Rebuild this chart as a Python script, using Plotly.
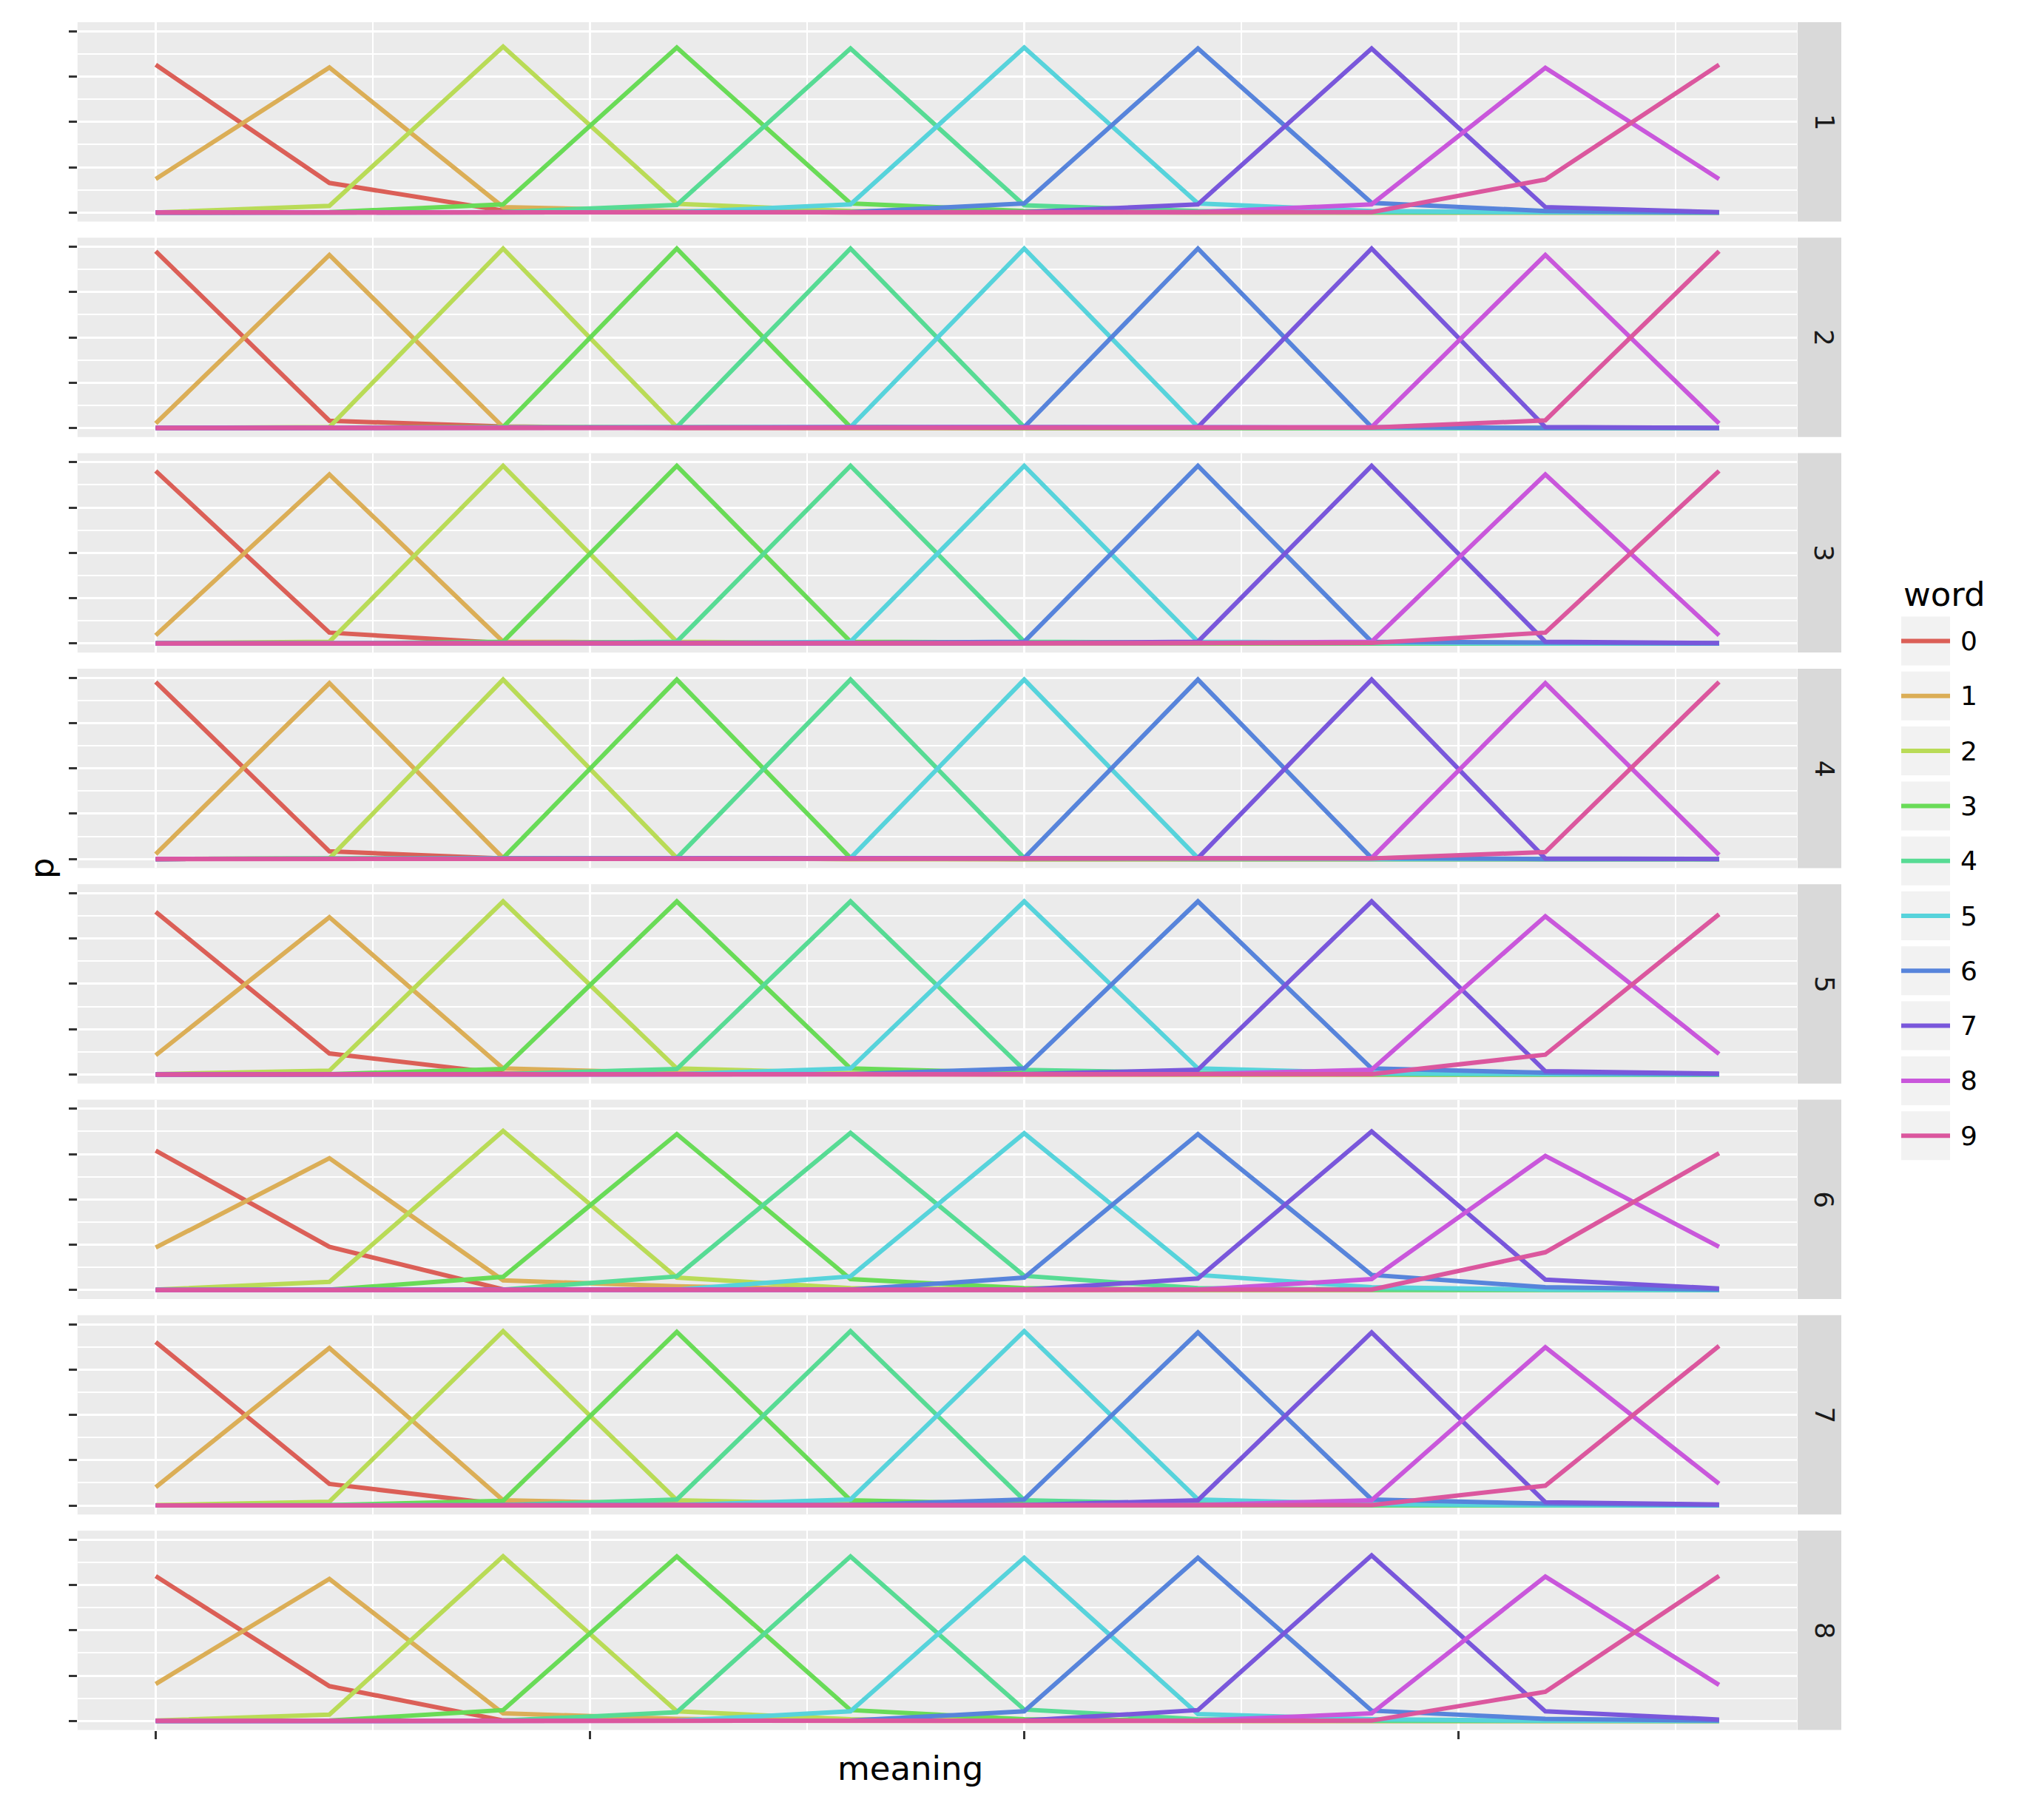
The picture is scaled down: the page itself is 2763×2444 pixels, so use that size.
import plotly.graph_objects as go

# ---------------- data ----------------
meanings = [0, 1, 2, 3, 4, 5, 6, 7, 8, 9]
words = ["0", "1", "2", "3", "4", "5", "6", "7", "8", "9"]
facets = ["1", "2", "3", "4", "5", "6", "7", "8"]

# each panel: one row per word, values p over meanings 0..9
P1 = [
    [0.815, 0.163, 0.010, 0.002, 0, 0, 0, 0, 0, 0],
    [0.185, 0.800, 0.030, 0.008, 0.002, 0, 0, 0, 0, 0],
    [0.000, 0.037, 0.915, 0.048, 0.008, 0.002, 0, 0, 0, 0],
    [0, 0.002, 0.045, 0.910, 0.050, 0.008, 0.002, 0, 0, 0],
    [0, 0, 0.002, 0.042, 0.905, 0.040, 0.008, 0.002, 0, 0],
    [0, 0, 0, 0.002, 0.045, 0.910, 0.050, 0.008, 0.002, 0],
    [0, 0, 0, 0, 0.002, 0.050, 0.905, 0.053, 0.008, 0],
    [0, 0, 0, 0, 0, 0.002, 0.045, 0.905, 0.030, 0.002],
    [0, 0, 0, 0, 0, 0, 0.002, 0.045, 0.798, 0.185],
    [0, 0, 0, 0, 0, 0, 0, 0.002, 0.182, 0.815],
]
P2 = [
    [0.975, 0.040, 0.008, 0, 0, 0, 0, 0, 0, 0],
    [0.025, 0.955, 0.005, 0.002, 0, 0, 0, 0, 0, 0],
    [0, 0.005, 0.990, 0.005, 0, 0, 0, 0, 0, 0],
    [0, 0, 0.005, 0.990, 0.005, 0, 0, 0, 0, 0],
    [0, 0, 0, 0.005, 0.990, 0.005, 0, 0, 0, 0],
    [0, 0, 0, 0, 0.005, 0.990, 0.005, 0, 0, 0],
    [0, 0, 0, 0, 0, 0.005, 0.990, 0.005, 0, 0],
    [0, 0, 0, 0, 0, 0, 0.005, 0.990, 0.005, 0],
    [0, 0, 0, 0, 0, 0, 0, 0.005, 0.955, 0.025],
    [0, 0, 0, 0, 0, 0, 0, 0.002, 0.042, 0.975],
]
P3 = [
    [0.952, 0.060, 0.003, 0, 0, 0, 0, 0, 0, 0],
    [0.045, 0.933, 0.010, 0.002, 0, 0, 0, 0, 0, 0],
    [0.002, 0.010, 0.980, 0.010, 0.002, 0, 0, 0, 0, 0],
    [0, 0, 0.010, 0.980, 0.010, 0.002, 0, 0, 0, 0],
    [0, 0, 0.002, 0.010, 0.980, 0.010, 0.002, 0, 0, 0],
    [0, 0, 0, 0.002, 0.010, 0.980, 0.010, 0.002, 0, 0],
    [0, 0, 0, 0, 0.002, 0.010, 0.980, 0.010, 0.002, 0],
    [0, 0, 0, 0, 0, 0.002, 0.010, 0.980, 0.010, 0.002],
    [0, 0, 0, 0, 0, 0, 0.002, 0.010, 0.933, 0.045],
    [0, 0, 0, 0, 0, 0, 0, 0.003, 0.060, 0.952],
]
P4 = [
    [0.977, 0.042, 0.003, 0, 0, 0, 0, 0, 0, 0],
    [0.027, 0.970, 0.005, 0, 0, 0, 0, 0, 0, 0],
    [0, 0.003, 0.990, 0.005, 0, 0, 0, 0, 0, 0],
    [0, 0, 0.005, 0.990, 0.005, 0, 0, 0, 0, 0],
    [0, 0, 0, 0.005, 0.990, 0.005, 0, 0, 0, 0],
    [0, 0, 0, 0, 0.005, 0.990, 0.005, 0, 0, 0],
    [0, 0, 0, 0, 0, 0.005, 0.990, 0.005, 0, 0],
    [0, 0, 0, 0, 0, 0, 0.005, 0.990, 0.003, 0],
    [0, 0, 0, 0, 0, 0, 0, 0.005, 0.970, 0.023],
    [0, 0, 0, 0, 0, 0, 0, 0.003, 0.038, 0.977],
]
P5 = [
    [0.897, 0.116, 0.005, 0.002, 0, 0, 0, 0, 0, 0],
    [0.106, 0.868, 0.033, 0.008, 0.002, 0, 0, 0, 0, 0],
    [0.002, 0.021, 0.955, 0.033, 0.008, 0.002, 0, 0, 0, 0],
    [0, 0.002, 0.030, 0.955, 0.033, 0.008, 0.002, 0, 0, 0],
    [0, 0, 0.002, 0.030, 0.955, 0.025, 0.008, 0.002, 0, 0],
    [0, 0, 0, 0.002, 0.033, 0.955, 0.033, 0.008, 0.002, 0],
    [0, 0, 0, 0, 0.002, 0.033, 0.955, 0.033, 0.010, 0.002],
    [0, 0, 0, 0, 0, 0.002, 0.026, 0.955, 0.018, 0.005],
    [0, 0, 0, 0, 0, 0, 0.002, 0.026, 0.873, 0.113],
    [0, 0, 0, 0, 0, 0, 0, 0.002, 0.109, 0.884],
]
P6 = [
    [0.769, 0.238, 0.003, 0, 0, 0, 0, 0, 0, 0],
    [0.234, 0.727, 0.053, 0.020, 0.002, 0, 0, 0, 0, 0],
    [0.002, 0.045, 0.878, 0.068, 0.010, 0.002, 0, 0, 0, 0],
    [0, 0.002, 0.072, 0.860, 0.060, 0.010, 0.002, 0, 0, 0],
    [0, 0, 0.002, 0.075, 0.867, 0.078, 0.010, 0.002, 0, 0],
    [0, 0, 0, 0.002, 0.075, 0.865, 0.083, 0.015, 0.002, 0],
    [0, 0, 0, 0, 0.002, 0.068, 0.860, 0.083, 0.015, 0.002],
    [0, 0, 0, 0, 0, 0.002, 0.063, 0.875, 0.057, 0.008],
    [0, 0, 0, 0, 0, 0, 0.002, 0.060, 0.740, 0.238],
    [0, 0, 0, 0, 0, 0, 0, 0.002, 0.208, 0.755],
]
P7 = [
    [0.902, 0.119, 0.005, 0.002, 0, 0, 0, 0, 0, 0],
    [0.101, 0.869, 0.029, 0.008, 0.002, 0, 0, 0, 0, 0],
    [0.002, 0.021, 0.962, 0.029, 0.008, 0.002, 0, 0, 0, 0],
    [0, 0.002, 0.026, 0.958, 0.029, 0.008, 0.002, 0, 0, 0],
    [0, 0, 0.002, 0.033, 0.962, 0.029, 0.008, 0.002, 0, 0],
    [0, 0, 0, 0.002, 0.033, 0.962, 0.033, 0.008, 0.002, 0],
    [0, 0, 0, 0, 0.002, 0.033, 0.955, 0.033, 0.010, 0.002],
    [0, 0, 0, 0, 0, 0.002, 0.029, 0.955, 0.018, 0.005],
    [0, 0, 0, 0, 0, 0, 0.002, 0.029, 0.873, 0.120],
    [0, 0, 0, 0, 0, 0, 0, 0.002, 0.109, 0.880],
]
P8 = [
    [0.799, 0.192, 0.003, 0, 0, 0, 0, 0, 0, 0],
    [0.204, 0.784, 0.042, 0.012, 0.002, 0, 0, 0, 0, 0],
    [0.002, 0.035, 0.908, 0.053, 0.010, 0.002, 0, 0, 0, 0],
    [0, 0.002, 0.060, 0.908, 0.060, 0.010, 0.002, 0, 0, 0],
    [0, 0, 0.002, 0.048, 0.908, 0.063, 0.010, 0.002, 0, 0],
    [0, 0, 0, 0.002, 0.053, 0.900, 0.038, 0.010, 0.002, 0],
    [0, 0, 0, 0, 0.002, 0.053, 0.900, 0.057, 0.012, 0.002],
    [0, 0, 0, 0, 0, 0.002, 0.060, 0.914, 0.053, 0.008],
    [0, 0, 0, 0, 0, 0, 0.002, 0.042, 0.797, 0.199],
    [0, 0, 0, 0, 0, 0, 0, 0.002, 0.161, 0.800],
]
panels = [P1, P2, P3, P4, P5, P6, P7, P8]

# ---------------- style ----------------
COLORS = ["#DB5F57", "#DBAE57", "#B9DB57", "#69DB57", "#57DB94",
          "#57D3DB", "#5784DB", "#7957DB", "#C957DB", "#DB579E"]
W, H = 2763, 2444
FONT = "DejaVu Sans"
PX0, PX1 = 104.8, 2429.4          # panel left / right (px)
TOP0, STEP, PH = 30.0, 291.3, 269.5  # first panel top, panel pitch, panel height
STRIP0, STRIP1 = 2430.0, 2489.0


def fx(px):
    return px / W


def fy(py):
    return 1 - py / H


fig = go.Figure()
for i, P in enumerate(panels):
    sfx = "" if i == 0 else str(i + 1)
    for w in range(len(words)):
        fig.add_trace(go.Scatter(
            x=meanings, y=P[w], mode="lines",
            line=dict(color=COLORS[w], width=6),
            xaxis="x" + sfx, yaxis="y" + sfx,
            name=words[w], legendgroup=words[w], showlegend=False,
            hoverinfo="skip"))

layout = dict(
    width=W, height=H, autosize=False,
    margin=dict(l=0, r=0, t=0, b=0, pad=0),
    paper_bgcolor="white", plot_bgcolor="#EBEBEB",
    showlegend=False, font=dict(family=FONT, color="black"),
)

shapes = []
annotations = []
for i in range(len(panels)):
    sfx = "" if i == 0 else str(i + 1)
    top = TOP0 + STEP * i
    bot = top + PH
    last = i == len(panels) - 1
    layout["xaxis" + sfx] = dict(
        domain=[fx(PX0), fx(PX1)], anchor="y" + sfx,
        range=[-0.45, 9.45], tick0=0, dtick=2.5,
        showgrid=True, gridcolor="white", gridwidth=3.2,
        minor=dict(tick0=0, dtick=1.25, showgrid=True, gridcolor="white",
                   gridwidth=1.7, ticks=""),
        zeroline=False, showline=False, showticklabels=False,
        ticks="outside" if last else "", ticklen=11, tickwidth=3,
        tickcolor="#333333", fixedrange=True,
    )
    layout["yaxis" + sfx] = dict(
        domain=[fy(bot), fy(top)], anchor="x" + sfx,
        range=[-0.05, 1.05], tick0=0, dtick=0.25,
        showgrid=True, gridcolor="white", gridwidth=3.2,
        minor=dict(tick0=0, dtick=0.125, showgrid=True, gridcolor="white",
                   gridwidth=1.7, ticks=""),
        zeroline=False, showline=False, showticklabels=False,
        ticks="outside", ticklen=11, tickwidth=3, tickcolor="#333333",
        fixedrange=True,
    )
    # facet strip on the right
    shapes.append(dict(type="rect", xref="paper", yref="paper",
                       x0=fx(STRIP0), x1=fx(STRIP1), y0=fy(bot), y1=fy(top),
                       fillcolor="#D9D9D9", line=dict(width=0), layer="below"))
    annotations.append(dict(text=facets[i], xref="paper", yref="paper",
                            x=fx(2466), y=fy((top + bot) / 2),
                            xanchor="center", yanchor="middle", textangle=90,
                            showarrow=False,
                            font=dict(family=FONT, size=36, color="#1A1A1A")))

# legend (drawn manually, ggplot style)
annotations.append(dict(text="word", xref="paper", yref="paper",
                        x=fx(2571), y=fy(803), xanchor="left", yanchor="middle",
                        showarrow=False, font=dict(family=FONT, size=45, color="black")))
KEY0, KEY1, KEYH, KEYC0, KEYSTEP = 2570.0, 2636.0, 66.0, 866.5, 74.3
for w in range(len(words)):
    cy = KEYC0 + KEYSTEP * w
    shapes.append(dict(type="rect", xref="paper", yref="paper",
                       x0=fx(KEY0), x1=fx(KEY1), y0=fy(cy + KEYH / 2), y1=fy(cy - KEYH / 2),
                       fillcolor="#F2F2F2", line=dict(width=0)))
    shapes.append(dict(type="line", xref="paper", yref="paper",
                       x0=fx(KEY0), x1=fx(KEY1), y0=fy(cy), y1=fy(cy),
                       line=dict(color=COLORS[w], width=6)))
    annotations.append(dict(text=words[w], xref="paper", yref="paper",
                            x=fx(2648), y=fy(cy), xanchor="left", yanchor="middle",
                            showarrow=False, font=dict(family=FONT, size=36, color="black")))

# axis titles
annotations.append(dict(text="meaning", xref="paper", yref="paper",
                        x=fx(1230), y=fy(2390), xanchor="center", yanchor="middle",
                        showarrow=False, font=dict(family=FONT, size=45, color="black")))
annotations.append(dict(text="p", xref="paper", yref="paper",
                        x=fx(56), y=fy(1173), xanchor="center", yanchor="middle",
                        textangle=-90, showarrow=False,
                        font=dict(family=FONT, size=45, color="black")))

layout["shapes"] = shapes
layout["annotations"] = annotations
fig.update_layout(**layout)
fig.write_html("out.html")
